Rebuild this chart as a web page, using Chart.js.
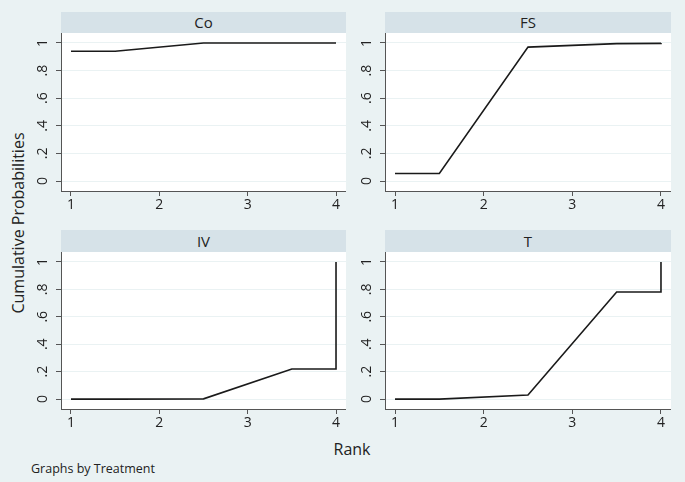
<!DOCTYPE html>
<html>
<head>
<meta charset="utf-8">
<script src="https://cdn.jsdelivr.net/npm/chart.js@4.4.0/dist/chart.umd.min.js"></script>
<style>
  body { margin: 0; background: #eaf2f3; }
  #wrap { position: relative; width: 685px; height: 482px; background: #eaf2f3; font-family: "Open Sans", sans-serif; color: #222; overflow: hidden; }
  .hdr { position: absolute; background: #d6e2e8; text-align: center; font-size: 15px; }
  canvas { position: absolute; }
  .lbl { position: absolute; white-space: nowrap; }
</style>
</head>
<body>
<div id="wrap">
  <div class="lbl" id="ytitle" style="left:18px;top:223px;font-size:16px;transform:translate(-50%,-50%) rotate(-90deg);">Cumulative Probabilities</div>
  <div class="lbl" style="left:352px;top:449px;font-size:16px;transform:translate(-50%,-50%);">Rank</div>
  <div class="lbl" style="left:31px;top:468px;font-size:12.5px;transform:translate(0,-50%);">Graphs by Treatment</div>
</div>
<script>
// cumulative ranking probabilities
var treatments = ["Co", "FS", "IV", "T"];
var rankX = [1, 1.5, 2.5, 3.5, 4, 4];
var probCo = [0.94, 0.94, 1, 1, 1, 1];
var probFS = [0.055, 0.055, 0.97, 0.995, 0.997, 1];
var probIV = [0, 0, 0.002, 0.22, 0.22, 1];
var probT = [0, 0, 0.03, 0.78, 0.78, 1];
var xTicks = [1, 2, 3, 4];
var yTicks = [0, 0.2, 0.4, 0.6, 0.8, 1];
var yTickLabels = ["0", ".2", ".4", ".6", ".8", "1"];

var series = [probCo, probFS, probIV, probT];

// panel boxes (plot area left/top, width, height)
var panels = [
  {left: 61, top: 33, w: 285, h: 158, hdrTop: 12, hdrH: 21},
  {left: 385, top: 33, w: 286, h: 158, hdrTop: 12, hdrH: 21},
  {left: 61, top: 252, w: 285, h: 157, hdrTop: 230, hdrH: 22},
  {left: 385, top: 252, w: 286, h: 157, hdrTop: 230, hdrH: 22}
];

var axisW = 31, axisH = 30;
var axisColor = '#555';
var tickFont = '"Open Sans", sans-serif';

var plotBg = {
  id: 'plotBg',
  beforeDraw: function(chart) {
    var a = chart.chartArea, c = chart.ctx;
    c.save();
    c.fillStyle = '#ffffff';
    c.fillRect(a.left, a.top, a.right - a.left, a.bottom - a.top);
    c.restore();
  }
};

// stata style rotated y labels
var yLabels = {
  id: 'yLabels',
  afterDraw: function(chart) {
    var s = chart.scales.y, c = chart.ctx;
    c.save();
    c.fillStyle = '#222';
    c.font = '14px ' + tickFont;
    c.textAlign = 'center';
    c.textBaseline = 'middle';
    yTicks.forEach(function(v, i) {
      var py = s.getPixelForValue(v);
      c.save();
      c.translate(chart.chartArea.left - 18, py);
      c.rotate(-Math.PI / 2);
      c.fillText(yTickLabels[i], 0, 0);
      c.restore();
    });
    c.restore();
  }
};

var wrap = document.getElementById('wrap');

treatments.forEach(function(name, k) {
  var p = panels[k];
  var hdr = document.createElement('div');
  hdr.className = 'hdr';
  hdr.style.left = p.left + 'px';
  hdr.style.top = p.hdrTop + 'px';
  hdr.style.width = p.w + 'px';
  hdr.style.height = p.hdrH + 'px';
  hdr.style.lineHeight = p.hdrH + 'px';
  hdr.textContent = name;
  wrap.appendChild(hdr);

  var cv = document.createElement('canvas');
  cv.width = p.w + axisW;
  cv.height = p.h + axisH;
  cv.style.left = (p.left - axisW) + 'px';
  cv.style.top = p.top + 'px';
  wrap.appendChild(cv);

  var pts = rankX.map(function(x, i) { return {x: x, y: series[k][i]}; });

  new Chart(cv.getContext('2d'), {
    type: 'scatter',
    data: {
      datasets: [{
        data: pts,
        showLine: true,
        borderColor: '#1a1a1a',
        borderWidth: 1.6,
        pointRadius: 0,
        tension: 0
      }]
    },
    options: {
      responsive: false,
      devicePixelRatio: 1,
      animation: false,
      layout: {padding: 0},
      plugins: {legend: {display: false}, tooltip: {enabled: false}},
      scales: {
        x: {
          type: 'linear',
          min: 0.887, max: 4.113,
          afterBuildTicks: function(s) { s.ticks = xTicks.map(function(v) { return {value: v}; }); },
          afterFit: function(s) { s.height = axisH; },
          grid: {drawOnChartArea: false, tickLength: 5, color: axisColor},
          border: {display: true, color: axisColor, width: 1},
          ticks: {color: '#222', font: {size: 14, family: tickFont}, padding: 1, maxRotation: 0}
        },
        y: {
          min: -0.072, max: 1.072,
          afterBuildTicks: function(s) { s.ticks = yTicks.map(function(v) { return {value: v}; }); },
          afterFit: function(s) { s.width = axisW; },
          grid: {color: '#eaf2f3', lineWidth: 1, tickLength: 5, tickColor: axisColor},
          border: {display: true, color: axisColor, width: 1},
          ticks: {display: false}
        }
      }
    },
    plugins: [plotBg, yLabels]
  });
});
</script>
</body>
</html>
